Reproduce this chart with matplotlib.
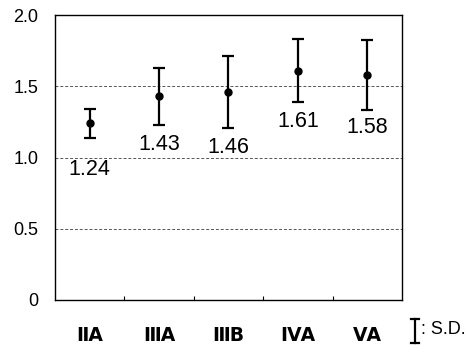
import matplotlib
matplotlib.use("Agg")
import matplotlib.pyplot as plt
from matplotlib.lines import Line2D
import numpy as np

categories = ["ⅡA", "ⅢA", "ⅢB", "ⅣA", "ⅤA"]
means = [1.24, 1.43, 1.46, 1.61, 1.58]
sds = [0.10, 0.20, 0.25, 0.22, 0.245]
value_labels = ["1.24", "1.43", "1.46", "1.61", "1.58"]
yticks = [0, 0.5, 1.0, 1.5, 2.0]
ytick_labels = ["0", "0.5", "1.0", "1.5", "2.0"]

fig = plt.figure(figsize=(4.71, 3.53), dpi=100)
ax = fig.add_axes([55/471, 1-300/353, 347/471, 285/353])

x = np.arange(len(categories))
ax.errorbar(x, means, yerr=sds, fmt='o', color='black', ms=5, elinewidth=1.6,
            capsize=4, capthick=1.6, zorder=3)

# value labels below error bars
label_offsets = [-23, -14, -14, -14, -13]
for xi, m, s, lab, off in zip(x, means, sds, value_labels, label_offsets):
    ax.annotate(lab, (xi, m - s), xytext=(0, off), textcoords='offset points',
                ha='center', va='center', fontsize=15.5, family='Liberation Sans')

ax.set_xlim(-0.5, len(categories) - 0.5)
ax.set_ylim(0, 2.0)
ax.set_yticks(yticks)
ax.set_yticklabels(ytick_labels, family='Liberation Sans', fontsize=13)
ax.tick_params(axis='y', length=0, pad=12)
for yv in [0.5, 1.0, 1.5]:
    ax.axhline(yv, color='#555555', lw=0.7, ls=(0, (3, 2)), zorder=1)

ax.set_xticks(x)
ax.set_xticklabels(categories, family='DejaVu Sans', fontsize=13.5, fontweight='bold')
ax.tick_params(axis='x', which='major', length=0, pad=19)
ax.set_xticks(np.arange(0.5, len(categories) - 1, 1.0), minor=True)
ax.tick_params(axis='x', which='minor', direction='in', length=3, width=0.8)

for sp in ax.spines.values():
    sp.set_linewidth(1.0)
    sp.set_color('black')

# S.D. legend symbol
lx = 415/471
y0, y1 = 1-319/353, 1-343/353
fig.add_artist(Line2D([lx, lx], [y0, y1], transform=fig.transFigure, color='black', lw=1.6))
for yy in (y0, y1):
    fig.add_artist(Line2D([lx-4/471, lx+4/471], [yy, yy], transform=fig.transFigure, color='black', lw=1.6))
fig.text(421/471, 1-330/353, ": S.D.", ha='left', va='center', fontsize=13, family='Liberation Sans')

fig.savefig("out.png", dpi=100)
